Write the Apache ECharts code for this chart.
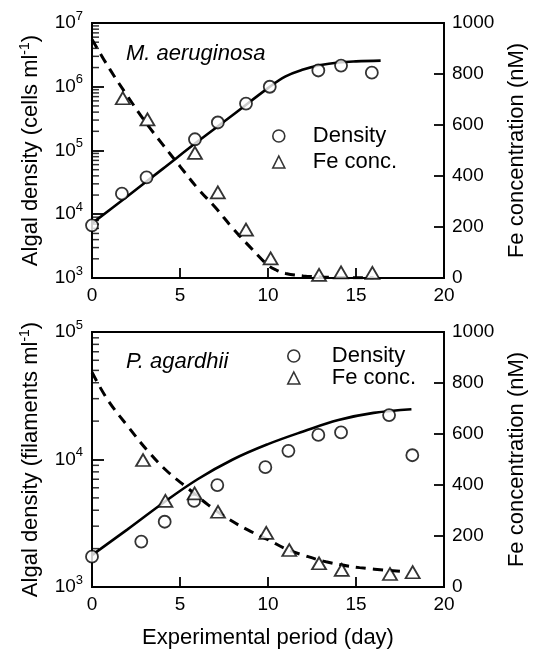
<!DOCTYPE html>
<html>
<head>
<meta charset="utf-8">
<script src="https://cdn.jsdelivr.net/npm/echarts@6/dist/echarts.min.js"></script>
<style>
html, body { margin: 0; padding: 0; background: #fff; }
#main { width: 534px; height: 657px; }
</style>
</head>
<body>
<div id="main"></div>
<script>
// M. aeruginosa (top panel)
const maDays = [0, 1.7, 3.1, 5.85, 7.15, 8.75, 10.1, 12.86, 14.15, 15.9];
const maDensity = [6700, 21000, 38000, 150000, 275000, 545000, 1000000, 1800000, 2150000, 1660000];
const maFeDays = [1.75, 3.15, 5.85, 7.15, 8.75, 10.15, 12.9, 14.15, 15.93];
const maFe = [705, 622, 491, 336, 190, 77, 12, 22, 20];
const maFitDays = [0, 2, 4, 6, 8, 10, 11, 12, 13, 14, 15, 16.4];
const maFitDensity = [7200, 19000, 51000, 138000, 360000, 950000, 1450000, 1860000, 2190000, 2400000, 2500000, 2570000];
const maFeFitDays = [0, 1, 2, 3, 4, 5, 6, 7, 8, 9, 10, 10.5, 11, 12, 13, 14, 16];
const maFeFit = [935, 820, 715, 615, 525, 438, 352, 277, 195, 120, 50, 30, 18, 8, 4, 2, 1];

// P. agardhii (bottom panel)
const paDays = [0, 2.8, 4.13, 5.8, 7.12, 9.85, 11.16, 12.86, 14.15, 16.88, 18.2];
const paDensity = [1730, 2270, 3250, 4730, 6300, 8700, 11700, 15600, 16300, 22300, 10800];
const paFeDays = [2.9, 4.17, 5.83, 7.16, 9.9, 11.21, 12.9, 14.19, 16.93, 18.22];
const paFe = [498, 338, 367, 295, 212, 145, 93, 67, 51, 58];
const paFitDays = [0, 2, 4, 6, 8, 10, 12, 14, 16, 18.15];
const paFitDensity = [1780, 2820, 4520, 7000, 10000, 13200, 16600, 20400, 23200, 24800];
const paFeFitDays = [0, 0.9, 2.05, 3.2, 4.3, 5.45, 6.6, 7.7, 8.85, 10.1, 11, 12, 13.3, 15.2, 17.8];
const paFeFit = [842, 733, 629, 531, 452, 387, 322, 269, 224, 182, 150, 125, 99, 76, 60];

// axis ticks
const dayTicks = [0, 5, 10, 15, 20];
const feTicks = [0, 200, 400, 600, 800, 1000];
const topMinor = [2, 3, 4, 5, 6, 7, 8, 9].flatMap(m => [1e3, 1e4, 1e5, 1e6].map(d => m * d));
const botMinor = [2, 3, 4, 5, 6, 7, 8, 9].flatMap(m => [1e3, 1e4].map(d => m * d));

const FONT = "'Liberation Sans', Arial, sans-serif";

function zip(xs, ys) { return xs.map((x, i) => [x, ys[i]]); }

function logLabel(v) {
    return '{base|10}{sup|' + Math.round(Math.log10(v)) + '}';
}

const supRich = {
    base: { fontSize: 19, fontFamily: FONT, color: '#000' },
    sup: { fontSize: 13, fontFamily: FONT, color: '#000', padding: [0, 0, 14, 0] }
};

function xAxisOpt(gridIndex, withName) {
    const o = {
        type: 'value', gridIndex: gridIndex, min: 0, max: 20, interval: 5,
        axisLine: { lineStyle: { color: '#000', width: 1.8 } },
        axisTick: { inside: true, length: 10, lineStyle: { color: '#000', width: 1.8 } },
        axisLabel: { color: '#000', fontSize: 19, fontFamily: FONT, margin: 8,
            formatter: v => dayTicks.includes(v) ? String(v) : '' },
        splitLine: { show: false }
    };
    if (withName) {
        o.name = 'Experimental period (day)';
        o.nameLocation = 'middle';
        o.nameGap = 40;
        o.nameTextStyle = { color: '#000', fontSize: 22, fontFamily: FONT };
    }
    return o;
}

function logAxisOpt(gridIndex, max, name) {
    return {
        type: 'log', logBase: 10, gridIndex: gridIndex, min: 1000, max: max, position: 'left',
        axisLine: { lineStyle: { color: '#000', width: 1.8 } },
        axisTick: { inside: true, length: 12, lineStyle: { color: '#000', width: 1.8 } },
        axisLabel: { color: '#000', margin: 9, formatter: logLabel, rich: supRich },
        splitLine: { show: false },
        name: name, nameLocation: 'middle', nameRotate: 90, nameGap: 48,
        nameTextStyle: { color: '#000', fontSize: 22, fontFamily: FONT,
            rich: { sup: { fontSize: 14, fontFamily: FONT, color: '#000', padding: [0, 0, 12, 0] } } }
    };
}

function feAxisOpt(gridIndex) {
    return {
        type: 'value', gridIndex: gridIndex, min: 0, max: 1000, interval: 200, position: 'right',
        axisLine: { lineStyle: { color: '#000', width: 1.8 } },
        axisTick: { inside: true, length: 10, lineStyle: { color: '#000', width: 1.8 } },
        axisLabel: { color: '#000', fontSize: 19, fontFamily: FONT, margin: 8,
            formatter: v => feTicks.includes(v) ? String(v) : '' },
        splitLine: { show: false },
        name: 'Fe concentration (nM)', nameLocation: 'middle', nameRotate: 90, nameGap: 62,
        nameTextStyle: { color: '#000', fontSize: 22, fontFamily: FONT }
    };
}

const circleStyle = { color: '#fff', borderColor: '#000', borderWidth: 1.8 };

function densityScatter(xi, yi, data) {
    return { name: 'Density', type: 'scatter', xAxisIndex: xi, yAxisIndex: yi, data: data,
        symbol: 'circle', symbolSize: 12, itemStyle: circleStyle, z: 5 };
}
function feScatter(xi, yi, data) {
    return { name: 'Fe conc.', type: 'scatter', xAxisIndex: xi, yAxisIndex: yi, data: data,
        symbol: 'triangle', symbolSize: [14, 12], itemStyle: circleStyle, z: 5 };
}
function fitLine(xi, yi, data, dashed) {
    return { name: dashed ? 'fe-fit' : 'dens-fit', type: 'line', xAxisIndex: xi, yAxisIndex: yi,
        data: data, smooth: 0.4, showSymbol: false, symbol: 'none', z: 3, silent: true,
        lineStyle: { color: '#000', width: dashed ? 3 : 2.6, type: dashed ? [10, 7] : 'solid' } };
}
// short inward ticks at 2..9 of each decade
function minorTicks(xi, yi, values) {
    return { name: 'minor', type: 'scatter', xAxisIndex: xi, yAxisIndex: yi, silent: true, z: 4,
        data: values.map(v => [0, v]), clip: false,
        symbol: 'rect', symbolSize: [7, 1.5], symbolOffset: [3.5, 0],
        itemStyle: { color: '#000' } };
}

function legendOpt(left, top, gap, pad) {
    return { data: [{ name: 'Density', icon: 'circle' }, { name: 'Fe conc.', icon: 'triangle' }],
        orient: 'vertical', left: left, top: top, padding: 0,
        itemWidth: 12, itemHeight: 12, itemGap: gap, selectedMode: false,
        itemStyle: { color: '#fff', borderColor: '#000', borderWidth: 1.6 },
        formatter: name => '{g|}' + name,
        textStyle: { fontSize: 22, fontFamily: FONT, color: '#000', lineHeight: 20,
            rich: { g: { width: pad } } } };
}

const chart = echarts.init(document.getElementById('main'));
chart.setOption({
    backgroundColor: '#fff',
    animation: false,
    textStyle: { fontFamily: FONT },
    grid: [
        { left: 92, top: 23, width: 352, height: 255, outerBoundsMode: 'none',
          show: true, borderColor: '#000', borderWidth: 1.8, backgroundColor: 'transparent' },
        { left: 92, top: 332, width: 352, height: 255, outerBoundsMode: 'none',
          show: true, borderColor: '#000', borderWidth: 1.8, backgroundColor: 'transparent' }
    ],
    title: [
        { text: 'M. aeruginosa', left: 126, top: 43, padding: 0,
          textStyle: { fontStyle: 'italic', fontWeight: 'normal', fontSize: 22, fontFamily: FONT, color: '#000' } },
        { text: 'P. agardhii', left: 126, top: 351, padding: 0,
          textStyle: { fontStyle: 'italic', fontWeight: 'normal', fontSize: 22, fontFamily: FONT, color: '#000' } }
    ],
    legend: [
        legendOpt(272, 125, 4, 23),
        legendOpt(287, 345, 0, 27)
    ],
    xAxis: [xAxisOpt(0, false), xAxisOpt(1, true)],
    yAxis: [
        logAxisOpt(0, 1e7, 'Algal density (cells ml{sup|-1})'),
        feAxisOpt(0),
        logAxisOpt(1, 1e5, 'Algal density (filaments ml{sup|-1})'),
        feAxisOpt(1)
    ],
    series: [
        fitLine(0, 0, zip(maFitDays, maFitDensity), false),
        fitLine(0, 1, zip(maFeFitDays, maFeFit), true),
        densityScatter(0, 0, zip(maDays, maDensity)),
        feScatter(0, 1, zip(maFeDays, maFe)),
        minorTicks(0, 0, topMinor),
        fitLine(1, 2, zip(paFitDays, paFitDensity), false),
        fitLine(1, 3, zip(paFeFitDays, paFeFit), true),
        densityScatter(1, 2, zip(paDays, paDensity)),
        feScatter(1, 3, zip(paFeDays, paFe)),
        minorTicks(1, 2, botMinor)
    ]
});
</script>
</body>
</html>
